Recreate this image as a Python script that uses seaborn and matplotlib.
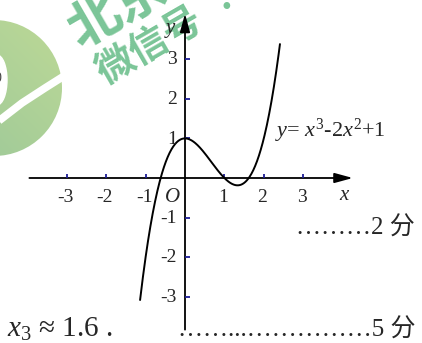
import numpy as np
import pandas as pd
import matplotlib
matplotlib.use("Agg")
import matplotlib.pyplot as plt
import seaborn as sns
from matplotlib.patches import Circle, Ellipse, FancyArrowPatch

# data: y = x^3 - 2x^2 + 1, drawn over the visible range
coeffs = [1, -2, 0, 1]
x_start, x_end = -1.14, 2.41
x_ticks = [-3, -2, -1, 1, 2, 3]
y_ticks = [-3, -2, -1, 1, 2, 3]
x_labels = ["-3", "-2", "-1", "1", "2", "3"]
y_labels = ["-3", "-2", "-1", "1", "2", "3"]

xs = np.linspace(x_start, x_end, 300)
curve = pd.DataFrame({"x": xs, "y": np.polyval(coeffs, xs)})

sns.set_theme(style="white")
plt.rcParams["font.family"] = ["Liberation Serif", "Noto Sans CJK SC"]
plt.rcParams["mathtext.fontset"] = "custom"
plt.rcParams["mathtext.rm"] = "Liberation Serif"
plt.rcParams["mathtext.it"] = "Liberation Serif:italic"

W, H = 422, 343
fig = plt.figure(figsize=(W / 100, H / 100), dpi=100)

# pixel overlay for the watermark
bg = fig.add_axes([0, 0, 1, 1])
bg.set_xlim(0, W)
bg.set_ylim(H, 0)
bg.axis("off")

grad = np.linspace(0, 1, 200)
gx, gy = np.meshgrid(grad, grad)
g = (gx + (1 - gy)) / 2
c1 = np.array([0.60, 0.78, 0.60])
c2 = np.array([0.74, 0.85, 0.59])
img = c1[None, None, :] * (1 - g[..., None]) + c2[None, None, :] * g[..., None]
im = bg.imshow(img, extent=(-74, 62, 156, 20), zorder=1)
clip = Circle((-6, 88), 68, transform=bg.transData)
im.set_clip_path(clip)
bg.plot([64, 45, 22, 0, -5], [76, 88, 103, 120, 124], color="white", lw=5.5,
        solid_capstyle="butt", zorder=2)
bg.add_patch(Ellipse((-3, 80), 20, 50, color="white", zorder=2))
bg.text(1, 78, "0", fontsize=10, ha="right", va="center", color="#444444", zorder=3)

# main axes in data units
ax = fig.add_axes([0, 0, 1, 1])
ax.patch.set_alpha(0)
ax.set_xlim(-185 / 39.4, 237 / 39.4)
ax.set_ylim((178 - 343) / 39.6, 178 / 39.6)
ax.axis("off")

sns.lineplot(data=curve, x="x", y="y", ax=ax, color="black", lw=1.4, sort=False, zorder=4)

ax.add_patch(FancyArrowPatch((-4.02, 0), (4.33, 0), arrowstyle="-|>,head_length=11,head_width=3",
                             color="black", lw=1.3, mutation_scale=1, zorder=3))
ax.add_patch(FancyArrowPatch((0, -3.9), (0, 4.22), arrowstyle="-|>,head_length=11,head_width=3",
                             color="black", lw=1.3, mutation_scale=1, zorder=3))

ax.vlines(x_ticks, 0, 0.1, color="#1c1c96", lw=1.3, zorder=3)
ax.hlines(y_ticks, 0, 0.13, color="#1c1c96", lw=1.3, zorder=3)

for xv, lab in zip(x_ticks, x_labels):
    ax.text(xv - 0.04, -0.5, lab, fontsize=14, ha="center", va="center", zorder=5)
for yv, lab in zip(y_ticks, y_labels):
    ax.text(-0.2, yv - 0.02, lab, fontsize=14, ha="right", va="center", zorder=5)

ax.text(-0.33, -0.5, "$O$", fontsize=15, ha="center", va="center", zorder=5)
ax.text(4.05, -0.44, "$x$", fontsize=15, ha="center", va="center", zorder=5)
ax.text(-0.38, 3.72, "$y$", fontsize=15, ha="center", va="center", zorder=5)
ax.text(2.28, 1.03, "$y$= $x^3$-2$x^2$+1", fontsize=16, ha="left", va="baseline", zorder=5)

# watermark text on top
bg.text(150, 46, "微信号", fontsize=28, fontweight="bold", color="#6cbf8c",
        rotation=30, ha="center", va="center", family="Noto Sans CJK SC", alpha=0.9, zorder=10)
bg.text(118, 9, "北京", fontsize=38, fontweight="bold", color="#6cbf8c",
        rotation=30, ha="center", va="center", family="Noto Sans CJK SC", alpha=0.9, zorder=10)
bg.text(226, 10, "·", fontsize=30, fontweight="bold", color="#6cbf8c",
        ha="center", va="center", alpha=0.9, zorder=10)

# right-hand side notes
fig.text(415 / W, 1 - 235 / H, "………2 分", fontsize=18, ha="right", va="baseline")
fig.text(7 / W, 1 - 337 / H, "$x_3$ ≈ 1.6 .", fontsize=21, ha="left", va="baseline")
fig.text(415 / W, 1 - 337 / H, "……...……………5 分", fontsize=18, ha="right", va="baseline")

fig.savefig("out.png", dpi=100)
